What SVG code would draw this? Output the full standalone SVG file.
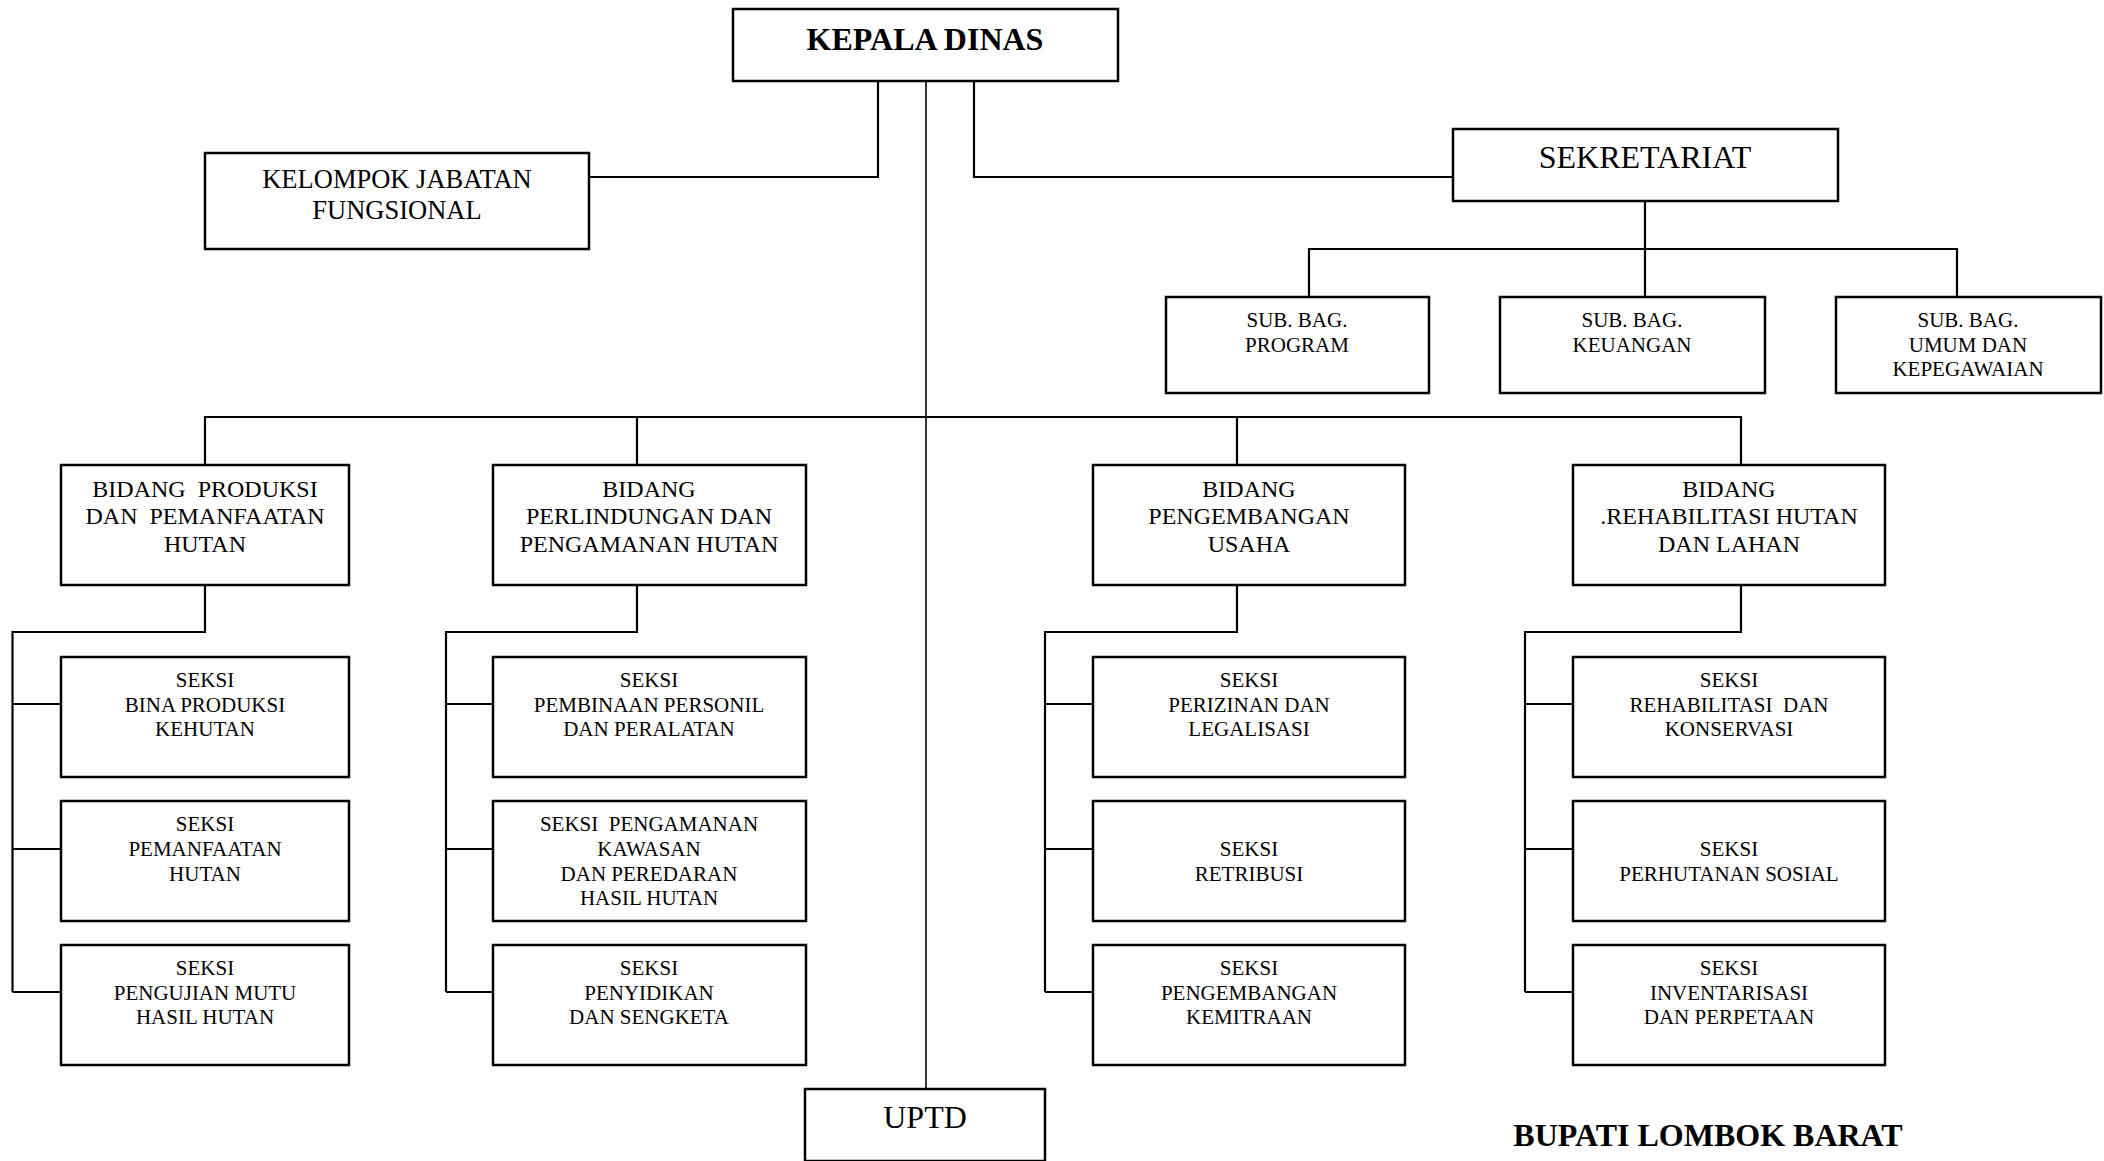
<svg xmlns="http://www.w3.org/2000/svg" width="2104" height="1161" viewBox="0 0 2104 1161">
<style>
rect{fill:#fff;stroke:#000;stroke-width:2.5}
text{font-family:"Liberation Serif","Times New Roman",serif;fill:#000;text-anchor:middle;white-space:pre}
.b{font-size:32px;font-weight:bold}
.h{font-size:32px}
.k{font-size:26.5px}
.bd{font-size:24px}
.s{font-size:21px}
#connectors path{fill:none;stroke:#000;stroke-width:2.2}
</style>
<rect x="0" y="0" width="2104" height="1161" style="stroke:none"/>
<g id="connectors">
<path d="M926 81V1089" style="stroke-width:1.6"/>
<path d="M878 81V177H589"/>
<path d="M974 81V177H1453"/>
<path d="M1645 201V297M1309 297V249H1957V297"/>
<path d="M205 465V417H1741V465M637 417V465M1237 417V465"/>
<path d="M205 585V632H12.5V992M12.5 704H61M12.5 849H61M12.5 992H61"/>
<path d="M637 585V632H446V992M446 704H493M446 849H493M446 992H493"/>
<path d="M1237 585V632H1045V992M1045 704H1093M1045 849H1093M1045 992H1093"/>
<path d="M1741 585V632H1525V992M1525 704H1573M1525 849H1573M1525 992H1573"/>
</g>
<g id="kepala-dinas"><rect x="733" y="9" width="385" height="72"/><text class="b" x="925" y="50">KEPALA DINAS</text></g>
<g id="kelompok-jabatan"><rect x="205" y="153" width="384" height="96"/><text class="k" x="397" y="188">KELOMPOK JABATAN</text><text class="k" x="397" y="219">FUNGSIONAL</text></g>
<g id="sekretariat"><rect x="1453" y="129" width="385" height="72"/><text class="h" x="1645" y="168">SEKRETARIAT</text></g>
<g id="subbag-program"><rect x="1166" y="297" width="263" height="96"/><text class="s" x="1297" y="327">SUB. BAG.</text><text class="s" x="1297" y="352">PROGRAM</text></g>
<g id="subbag-keuangan"><rect x="1500" y="297" width="265" height="96"/><text class="s" x="1632" y="327">SUB. BAG.</text><text class="s" x="1632" y="352">KEUANGAN</text></g>
<g id="subbag-umum"><rect x="1836" y="297" width="265" height="96"/><text class="s" x="1968" y="327">SUB. BAG.</text><text class="s" x="1968" y="352">UMUM DAN</text><text class="s" x="1968" y="376">KEPEGAWAIAN</text></g>
<g id="bidang-produksi"><rect x="61" y="465" width="288" height="120"/><text class="bd" x="205" y="497">BIDANG  PRODUKSI</text><text class="bd" x="205" y="524">DAN  PEMANFAATAN</text><text class="bd" x="205" y="552">HUTAN</text></g>
<g id="bidang-perlindungan"><rect x="493" y="465" width="313" height="120"/><text class="bd" x="649" y="497">BIDANG</text><text class="bd" x="649" y="524">PERLINDUNGAN DAN</text><text class="bd" x="649" y="552">PENGAMANAN HUTAN</text></g>
<g id="bidang-pengembangan"><rect x="1093" y="465" width="312" height="120"/><text class="bd" x="1249" y="497">BIDANG</text><text class="bd" x="1249" y="524">PENGEMBANGAN</text><text class="bd" x="1249" y="552">USAHA</text></g>
<g id="bidang-rehabilitasi"><rect x="1573" y="465" width="312" height="120"/><text class="bd" x="1729" y="497">BIDANG</text><text class="bd" x="1729" y="524">.REHABILITASI HUTAN</text><text class="bd" x="1729" y="552">DAN LAHAN</text></g>
<g id="seksi-bina-produksi"><rect x="61" y="657" width="288" height="120"/><text class="s" x="205" y="687">SEKSI</text><text class="s" x="205" y="712">BINA PRODUKSI</text><text class="s" x="205" y="736">KEHUTAN</text></g>
<g id="seksi-pemanfaatan"><rect x="61" y="801" width="288" height="120"/><text class="s" x="205" y="831">SEKSI</text><text class="s" x="205" y="856">PEMANFAATAN</text><text class="s" x="205" y="881">HUTAN</text></g>
<g id="seksi-pengujian"><rect x="61" y="945" width="288" height="120"/><text class="s" x="205" y="975">SEKSI</text><text class="s" x="205" y="1000">PENGUJIAN MUTU</text><text class="s" x="205" y="1024">HASIL HUTAN</text></g>
<g id="seksi-pembinaan"><rect x="493" y="657" width="313" height="120"/><text class="s" x="649" y="687">SEKSI</text><text class="s" x="649" y="712">PEMBINAAN PERSONIL</text><text class="s" x="649" y="736">DAN PERALATAN</text></g>
<g id="seksi-pengamanan"><rect x="493" y="801" width="313" height="120"/><text class="s" x="649" y="831">SEKSI  PENGAMANAN</text><text class="s" x="649" y="856">KAWASAN</text><text class="s" x="649" y="881">DAN PEREDARAN</text><text class="s" x="649" y="905">HASIL HUTAN</text></g>
<g id="seksi-penyidikan"><rect x="493" y="945" width="313" height="120"/><text class="s" x="649" y="975">SEKSI</text><text class="s" x="649" y="1000">PENYIDIKAN</text><text class="s" x="649" y="1024">DAN SENGKETA</text></g>
<g id="seksi-perizinan"><rect x="1093" y="657" width="312" height="120"/><text class="s" x="1249" y="687">SEKSI</text><text class="s" x="1249" y="712">PERIZINAN DAN</text><text class="s" x="1249" y="736">LEGALISASI</text></g>
<g id="seksi-retribusi"><rect x="1093" y="801" width="312" height="120"/><text class="s" x="1249" y="856">SEKSI</text><text class="s" x="1249" y="881">RETRIBUSI</text></g>
<g id="seksi-kemitraan"><rect x="1093" y="945" width="312" height="120"/><text class="s" x="1249" y="975">SEKSI</text><text class="s" x="1249" y="1000">PENGEMBANGAN</text><text class="s" x="1249" y="1024">KEMITRAAN</text></g>
<g id="seksi-rehabilitasi"><rect x="1573" y="657" width="312" height="120"/><text class="s" x="1729" y="687">SEKSI</text><text class="s" x="1729" y="712">REHABILITASI  DAN</text><text class="s" x="1729" y="736">KONSERVASI</text></g>
<g id="seksi-perhutanan"><rect x="1573" y="801" width="312" height="120"/><text class="s" x="1729" y="856">SEKSI</text><text class="s" x="1729" y="881">PERHUTANAN SOSIAL</text></g>
<g id="seksi-inventarisasi"><rect x="1573" y="945" width="312" height="120"/><text class="s" x="1729" y="975">SEKSI</text><text class="s" x="1729" y="1000">INVENTARISASI</text><text class="s" x="1729" y="1024">DAN PERPETAAN</text></g>
<g id="uptd"><rect x="805" y="1089" width="240" height="72"/><text class="h" x="925" y="1128">UPTD</text></g>
<text class="b" x="1708" y="1146">BUPATI LOMBOK BARAT</text>
</svg>
